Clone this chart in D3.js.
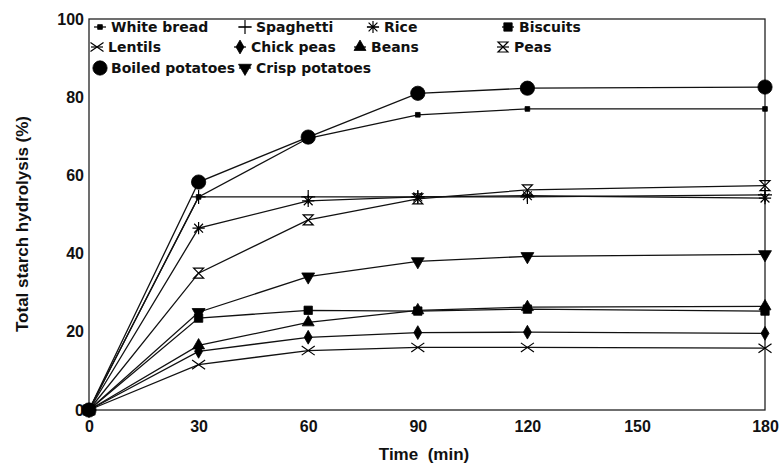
<!DOCTYPE html>
<html>
<head>
<meta charset="utf-8">
<script src="https://cdn.jsdelivr.net/npm/d3@7"></script>
<style>
  body { margin: 0; background: #fff; }
  svg { display: block; }
  text { font-family: "Liberation Sans", Arial, sans-serif; font-weight: bold; fill: #111; }
</style>
</head>
<body>
<div id="chart"></div>
<script>
// time points (min) and axis ticks
var times = [0, 30, 60, 90, 120, 180];
var xTicks = [0, 30, 60, 90, 120, 150, 180];
var yTicks = [0, 20, 40, 60, 80, 100];

// total starch hydrolysis (%) per food
var whiteBread     = [0, 54.5, 69.5, 75.5, 77.0, 77.0];
var spaghetti      = [0, 54.5, 54.5, 54.5, 54.5, 55.0];
var rice           = [0, 46.5, 53.5, 54.5, 54.8, 54.2];
var biscuits       = [0, 23.5, 25.5, 25.3, 25.8, 25.3];
var lentils        = [0, 11.6, 15.2, 16.0, 16.0, 15.8];
var chickPeas      = [0, 15.0, 18.6, 19.8, 19.9, 19.6];
var beans          = [0, 16.5, 22.4, 25.5, 26.3, 26.5];
var peas           = [0, 35.0, 48.6, 54.0, 56.3, 57.4];
var boiledPotatoes = [0, 58.3, 69.8, 81.0, 82.3, 82.6];
var crispPotatoes  = [0, 25.0, 34.1, 38.0, 39.3, 39.8];

var names = ["White bread", "Spaghetti", "Rice", "Biscuits",
             "Lentils", "Chick peas", "Beans", "Peas",
             "Boiled potatoes", "Crisp potatoes"];
var values = [whiteBread, spaghetti, rice, biscuits,
              lentils, chickPeas, beans, peas,
              boiledPotatoes, crispPotatoes];

var w = 781, h = 468;
var margin = {top: 19, right: 16, bottom: 58, left: 89};
var iw = w - margin.left - margin.right;
var ih = h - margin.top - margin.bottom;

// stroke-only marker shapes
var plusType = { draw: function(c, s) { var r = Math.sqrt(s) / 2;
  c.moveTo(-r, 0); c.lineTo(r, 0); c.moveTo(0, -r); c.lineTo(0, r); } };
var timesType = { draw: function(c, s) { var r = Math.sqrt(s) / 2;
  c.moveTo(-r, -r * 0.7); c.lineTo(r, r * 0.7); c.moveTo(-r, r * 0.7); c.lineTo(r, -r * 0.7); } };
var asteriskType = { draw: function(c, s) { var r = Math.sqrt(s) / 2;
  c.moveTo(-r, 0); c.lineTo(r, 0); c.moveTo(0, -r); c.lineTo(0, r);
  var d = r * 0.72;
  c.moveTo(-d, -d); c.lineTo(d, d); c.moveTo(-d, d); c.lineTo(d, -d); } };
var hourglassType = { draw: function(c, s) { var r = Math.sqrt(s) / 2;
  c.moveTo(-r, -r); c.lineTo(r, -r); c.lineTo(-r, r); c.lineTo(r, r); c.closePath(); } };

// one marker style per series, same order as names
var markers = [
  {type: d3.symbolSquare,   size: 22,  fill: true},
  {type: plusType,          size: 196, fill: false},
  {type: asteriskType,      size: 150, fill: false},
  {type: d3.symbolSquare,   size: 70,  fill: true},
  {type: timesType,         size: 170, fill: false},
  {type: d3.symbolDiamond,  size: 55,  fill: true},
  {type: d3.symbolTriangle, size: 62,  fill: true},
  {type: hourglassType,     size: 100, fill: false},
  {type: d3.symbolCircle,   size: 160, fill: true},
  {type: d3.symbolTriangle, size: 72,  fill: true, flip: true}
];

var svg = d3.select("#chart").append("svg")
    .attr("width", w)
    .attr("height", h);

var g = svg.append("g")
    .attr("transform", "translate(" + margin.left + "," + margin.top + ")");

// the printed axis is stretched a little between 150 and 180
var xScale = d3.scaleLinear().domain([0, 150, 180]).range([0, 548, iw]);
var yScale = d3.scaleLinear().domain([0, 100]).range([ih, 0]);

    //axes, no tick marks
var xAxis = d3.axisBottom(xScale).tickValues(xTicks).tickSize(0).tickPadding(11);
var yAxis = d3.axisLeft(yScale).tickValues(yTicks).tickSize(0).tickPadding(5);

g.append("g")
    .attr("transform", "translate(0," + ih + ")")
    .call(xAxis)
    .call(function(a) { a.select(".domain").remove(); })
    .selectAll("text").style("font-size", "16px").attr("fill", "#111");

g.append("g")
    .call(yAxis)
    .call(function(a) { a.select(".domain").remove(); })
    .selectAll("text").style("font-size", "16px").attr("fill", "#111");

    //plot frame
g.append("rect")
    .attr("x", 0).attr("y", 0)
    .attr("width", iw).attr("height", ih)
    .attr("fill", "none")
    .attr("stroke", "#222")
    .attr("stroke-width", 1.3);

var line = d3.line()
    .x(function(d, i) { return xScale(times[i]); })
    .y(function(d) { return yScale(d); });

values.forEach(function(vals) {
    g.append("path")
        .datum(vals)
        .attr("d", line)
        .attr("fill", "none")
        .attr("stroke", "#111")
        .attr("stroke-width", 1.3);
});

function drawMarker(sel, m) {
    sel.attr("d", d3.symbol().type(m.type).size(m.size))
        .attr("fill", m.fill ? "#000" : "none")
        .attr("stroke", "#000")
        .attr("stroke-width", m.fill ? 0.8 : 1.2);
}

values.forEach(function(vals, k) {
    var m = markers[k];
    g.selectAll(null)
        .data(vals)
        .enter().append("path")
        .attr("transform", function(d, i) {
            return "translate(" + xScale(times[i]) + "," + yScale(d) + ")" + (m.flip ? " rotate(180)" : "");
        })
        .call(drawMarker, m);
});

    //legend inside the plot, marker positions per entry
var legX = [11, 156, 284, 419, 8, 151, 271, 414, 11, 156];
var legY = [8, 8, 8, 8, 28, 28, 28, 28, 49, 49];
var leg = g.append("g");
names.forEach(function(name, k) {
    var item = leg.append("g").attr("transform", "translate(" + legX[k] + "," + legY[k] + ")");
    item.append("line")
        .attr("x1", -6).attr("x2", 6)
        .attr("stroke", "#111").attr("stroke-width", 1.3);
    item.append("path")
        .attr("transform", markers[k].flip ? "rotate(180)" : null)
        .call(drawMarker, markers[k]);
    item.append("text")
        .attr("x", 11).attr("dy", "0.36em")
        .style("font-family", "'DejaVu Sans', sans-serif")
        .style("font-size", "14px")
        .text(name);
});

    //axis titles
svg.append("text")
    .attr("x", 424)
    .attr("y", 460)
    .attr("text-anchor", "middle")
    .style("font-size", "17px")
    .style("white-space", "pre")
    .text("Time  (min)");

svg.append("text")
    .attr("transform", "translate(28,224) rotate(-90)")
    .attr("text-anchor", "middle")
    .style("font-size", "17px")
    .text("Total starch hydrolysis (%)");
</script>
</body>
</html>
